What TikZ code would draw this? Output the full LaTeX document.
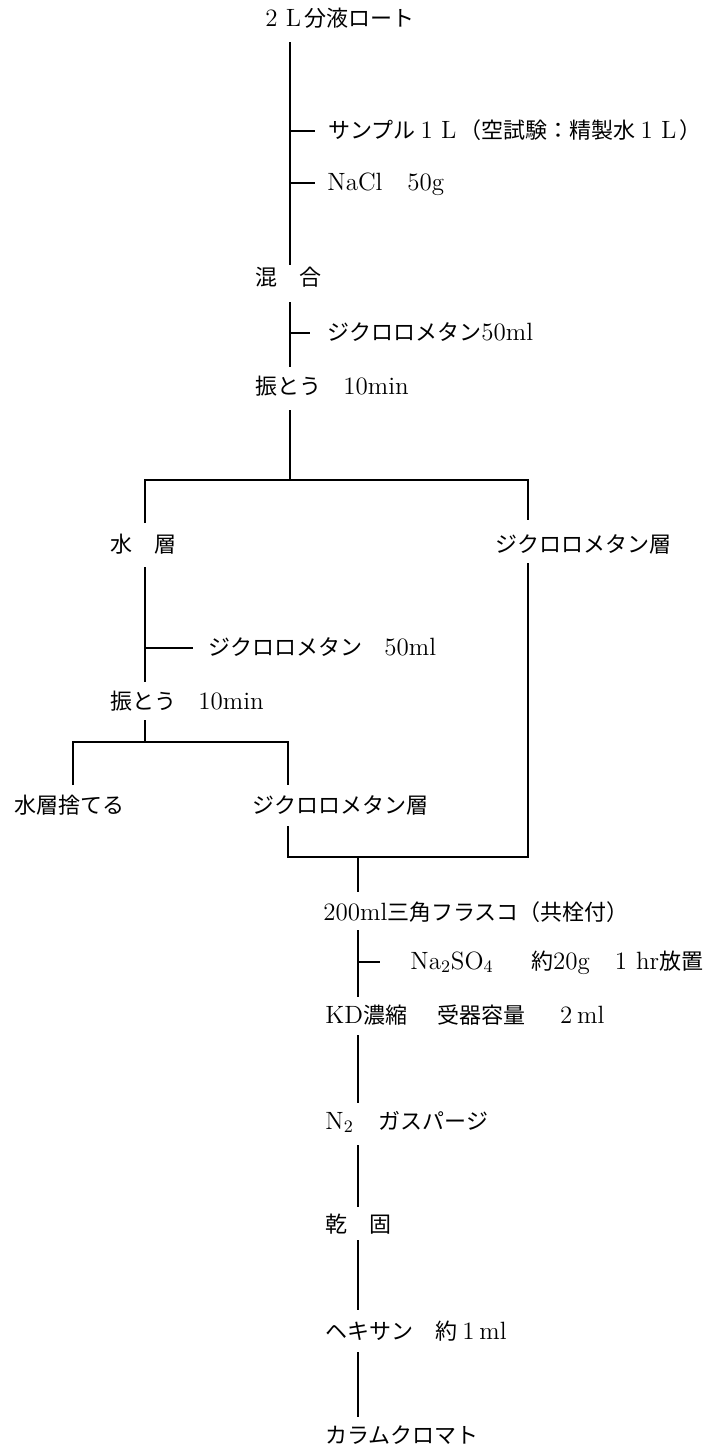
\documentclass[tikz,border=0pt]{standalone}
\usepackage{fontspec}
\newfontfamily\jp{Noto Sans CJK JP}
\newcommand{\J}[1]{{\jp\fontsize{11pt}{13pt}\selectfont #1}}
\newcommand{\fw}[1]{\makebox[11pt]{#1}}
\begin{document}
\begin{tikzpicture}[x=0.5pt,y=-0.5pt,
  lbl/.style={anchor=west,inner sep=0pt,text height=0.8em,text depth=0.07em,font=\fontsize{12.5pt}{15pt}\selectfont},
  trunk/.style={line width=0.95pt,line join=miter},
  tickln/.style={line width=0.6pt}]
\useasboundingbox (0,0) rectangle (710,1447);
% text nodes
\node[lbl] (t1) at (260,19) {\fw{2}\fw{L}\J{分液ロート}};
\node[lbl] (t2) at (328,131) {\J{サンプル}\fw{1}\fw{L}\J{（空試験：精製水}\fw{1}\fw{L}\J{）}};
\node[lbl] (t3) at (327,183) {NaCl\hspace{1em}50g};
\node[lbl] (t4) at (255,278) {\J{混　合}};
\node[lbl] (t5) at (327,333) {\J{ジクロロメタン}50ml};
\node[lbl] (t6) at (255,387) {\J{振とう　}10min};
\node[lbl] (t7) at (110,545) {\J{水　層}};
\node[lbl] (t8) at (495,545) {\J{ジクロロメタン層}};
\node[lbl] (t9) at (208,648) {\J{ジクロロメタン　}50ml};
\node[lbl] (t10) at (110,702) {\J{振とう　}10min};
\node[lbl] (t11) at (14,806) {\J{水層捨てる}};
\node[lbl] (t12) at (252,806) {\J{ジクロロメタン層}};
\node[lbl] (t13) at (323,913) {200ml\J{三角フラスコ（共栓付）}};
\node[lbl] (t14) at (410,962) {Na\textsubscript{2}SO\textsubscript{4}\hspace{1.5em}\J{約}20g\hspace{0.8em}\fw{1}\,hr\J{放置}};
\node[lbl] (t15) at (325,1016) {KD\J{濃縮}\hspace{1.2em}\J{受器容量}\hspace{1.2em}\fw{2}ml};
\node[lbl] (t16) at (325,1122) {N\textsubscript{2}\hspace{1em}\J{ガスパージ}};
\node[lbl] (t17) at (325,1225) {\J{乾　固}};
\node[lbl] (t18) at (325,1332) {\J{ヘキサン　約}\fw{1}ml};
\node[lbl] (t19) at (325,1436) {\J{カラムクロマト}};
% junction coordinates
\coordinate (a1) at (290,42);  \coordinate (a2) at (290,265);
\coordinate (a3) at (290,302); \coordinate (a4) at (290,367);
\coordinate (a5) at (290,410); \coordinate (a6) at (290,480);
\coordinate (s1) at (290,131); \coordinate (s1e) at (315,131);
\coordinate (s2) at (290,183); \coordinate (s2e) at (315,183);
\coordinate (s3) at (290,333); \coordinate (s3e) at (310,333);
\coordinate (l0) at (145,480); \coordinate (l1) at (145,523);
\coordinate (l2) at (145,567); \coordinate (l3) at (145,682);
\coordinate (l4) at (145,720); \coordinate (l5) at (145,742);
\coordinate (s4) at (145,648); \coordinate (s4e) at (193,648);
\coordinate (r0) at (528,480); \coordinate (r1) at (528,520);
\coordinate (r2) at (528,563); \coordinate (r3) at (528,857);
\coordinate (w0) at (73,742);  \coordinate (w1) at (73,785);
\coordinate (d0) at (288,742); \coordinate (d1) at (288,785);
\coordinate (d2) at (288,826); \coordinate (d3) at (288,857);
\coordinate (m0) at (358,857); \coordinate (m1) at (358,892);
\coordinate (m2) at (358,930); \coordinate (m3) at (358,997);
\coordinate (s5) at (358,962); \coordinate (s5e) at (380,962);
\coordinate (m4) at (358,1035); \coordinate (m5) at (358,1103);
\coordinate (m6) at (358,1145); \coordinate (m7) at (358,1207);
\coordinate (m8) at (358,1240); \coordinate (m9) at (358,1310);
\coordinate (m10) at (358,1352); \coordinate (m11) at (358,1417);
% connectors
\draw[trunk] (a1) -- (a2);
\draw[trunk] (a3) -- (a4);
\draw[trunk] (a5) -- (a6);
\draw[tickln] (s1) -- (s1e);
\draw[tickln] (s2) -- (s2e);
\draw[tickln] (s3) -- (s3e);
\draw[trunk] (l1) -- (l0) -- (r0) -- (r1);
\draw[trunk] (l2) -- (l3);
\draw[tickln] (s4) -- (s4e);
\draw[trunk] (l4) -- (l5);
\draw[trunk] (w1) -- (w0) -- (d0) -- (d1);
\draw[trunk] (d2) -- (d3) -- (r3) -- (r2);
\draw[trunk] (m0) -- (m1);
\draw[trunk] (m2) -- (m3);
\draw[tickln] (s5) -- (s5e);
\draw[trunk] (m4) -- (m5);
\draw[trunk] (m6) -- (m7);
\draw[trunk] (m8) -- (m9);
\draw[trunk] (m10) -- (m11);
\end{tikzpicture}
\end{document}
